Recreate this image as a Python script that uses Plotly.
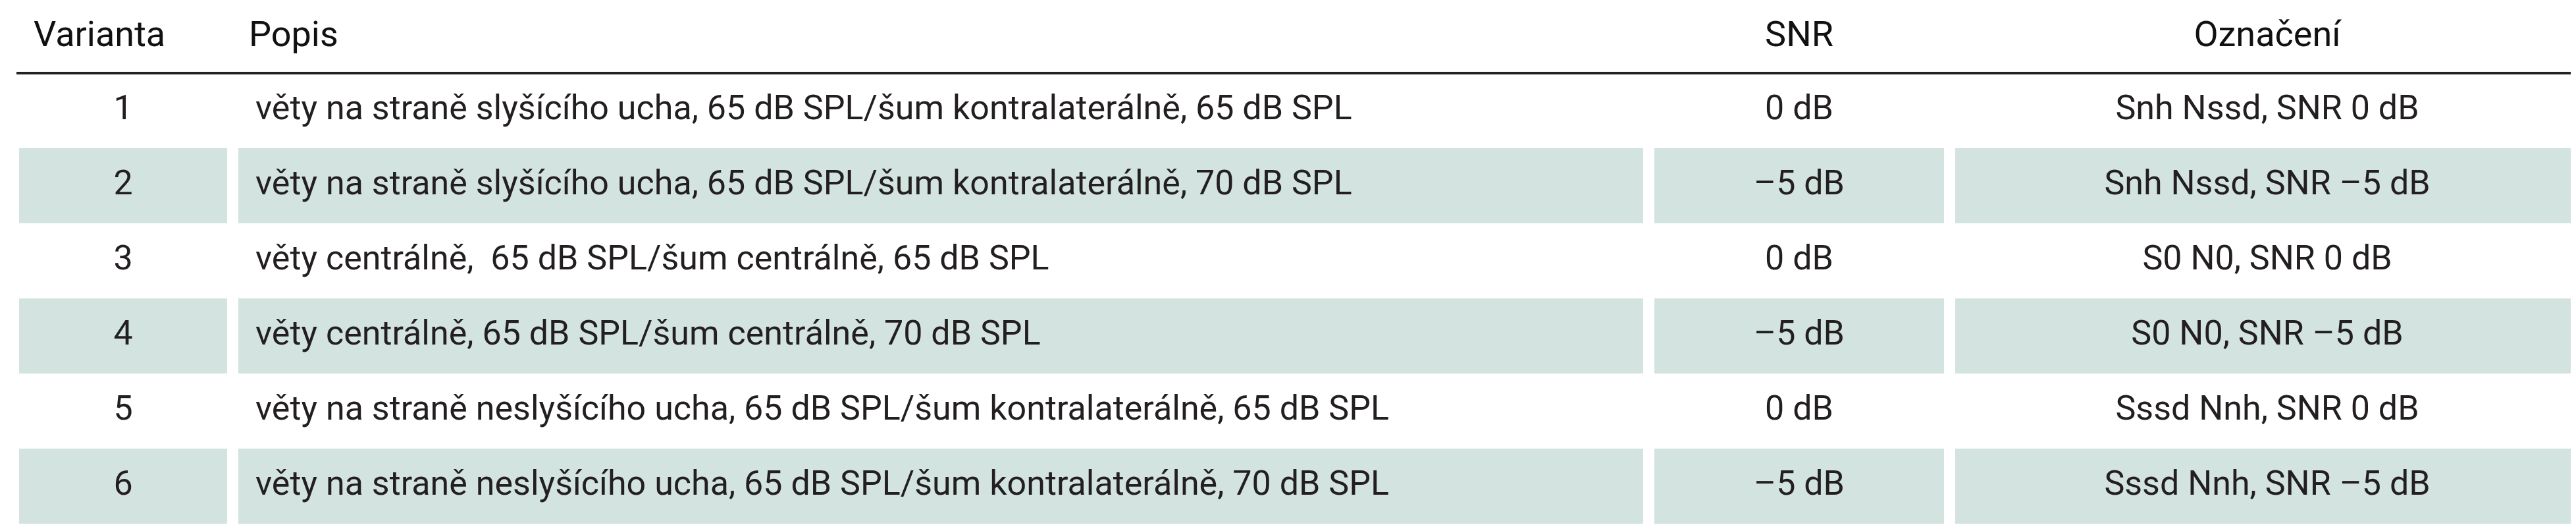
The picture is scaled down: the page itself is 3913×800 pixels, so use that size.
import plotly.graph_objects as go

headers = ["Varianta", "Popis", "SNR", "Označení"]
varianta = ["1", "2", "3", "4", "5", "6"]
popis = [
    "věty na straně slyšícího ucha, 65 dB SPL/šum kontralaterálně, 65 dB SPL",
    "věty na straně slyšícího ucha, 65 dB SPL/šum kontralaterálně, 70 dB SPL",
    "věty centrálně,  65 dB SPL/šum centrálně, 65 dB SPL",
    "věty centrálně, 65 dB SPL/šum centrálně, 70 dB SPL",
    "věty na straně neslyšícího ucha, 65 dB SPL/šum kontralaterálně, 65 dB SPL",
    "věty na straně neslyšícího ucha, 65 dB SPL/šum kontralaterálně, 70 dB SPL",
]
snr = ["0 dB", "–5 dB", "0 dB", "–5 dB", "0 dB", "–5 dB"]
oznaceni = [
    "Snh Nssd, SNR 0 dB", "Snh Nssd, SNR –5 dB", "S0 N0, SNR 0 dB",
    "S0 N0, SNR –5 dB", "Sssd Nnh, SNR 0 dB", "Sssd Nnh, SNR –5 dB",
]

# column bands in pixel units (x axis spans the 3913 px page)
cols = [(21, 337), (354, 2488), (2505, 2945), (2962, 3910)]
FONT = "Roboto"
TXT = "#231f20"
BAND = "#d3e3df"

rows = list(range(1, len(varianta) + 1))
fig = go.Figure()

for r in rows:
    if r % 2 == 0:
        for x0, x1 in cols:
            fig.add_shape(type="rect", x0=x0, x1=x1, y0=r - 0.5, y1=r + 0.5,
                          fillcolor=BAND, line_width=0, layer="below")

fig.add_shape(type="line", x0=17, x1=3913, y0=0.5, y1=0.5,
              line=dict(color="#222222", width=4))

# header
fig.add_trace(go.Scatter(
    x=[43, 370, (cols[2][0] + cols[2][1]) / 2, (cols[3][0] + cols[3][1]) / 2],
    y=[0.02] * 4, mode="text", text=headers,
    textposition=["middle right", "middle right", "middle center", "middle center"],
    textfont=dict(family=FONT, size=54, color="#111111")))

fig.add_trace(go.Scatter(x=[(cols[0][0] + cols[0][1]) / 2] * 6, y=rows, mode="text",
                         text=varianta, textfont=dict(family=FONT, size=52, color=TXT)))
fig.add_trace(go.Scatter(x=[380] * 6, y=rows, mode="text", text=popis,
                         textposition="middle right",
                         textfont=dict(family=FONT, size=52, color=TXT)))
fig.add_trace(go.Scatter(x=[(cols[2][0] + cols[2][1]) / 2] * 6, y=rows, mode="text",
                         text=snr, textfont=dict(family=FONT, size=52, color=TXT)))
fig.add_trace(go.Scatter(x=[(cols[3][0] + cols[3][1]) / 2] * 6, y=rows, mode="text",
                         text=oznaceni, textfont=dict(family=FONT, size=52, color=TXT)))

fig.update_layout(
    width=3913, height=800, margin=dict(l=0, r=0, t=0, b=0),
    paper_bgcolor="white", plot_bgcolor="white", showlegend=False,
    xaxis=dict(range=[0, 3913], visible=False, fixedrange=True),
    yaxis=dict(range=[6.614, -0.404], visible=False, fixedrange=True),
)

fig.write_html("out.html")
